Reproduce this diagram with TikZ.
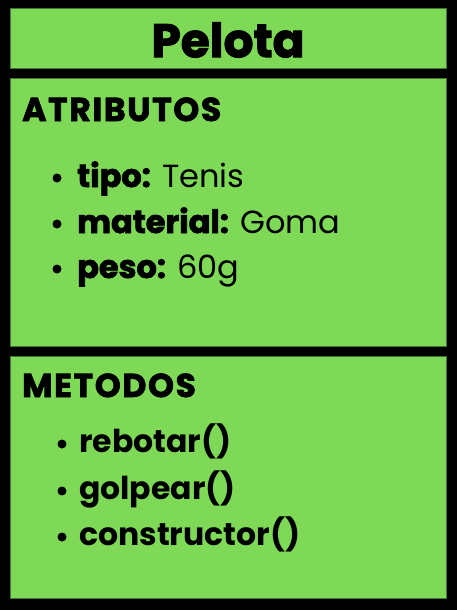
\documentclass[tikz,border=0pt]{standalone}
\usepackage{fontspec}
\setmainfont{Poppins}
\newfontfamily\heavyfont{Poppins}[FakeBold=2.2]
\usetikzlibrary{positioning}
\definecolor{lime}{RGB}{126,217,87}
\definecolor{ink}{RGB}{0,0,0}
\tikzset{
  panel/.style={fill=lime,draw=lime!55!black,line width=0.6pt},
  head/.style={anchor=base west,inner sep=0pt,text=ink,
    font=\fontsize{33}{33}\selectfont\heavyfont\bfseries\addfontfeature{LetterSpace=5}},
  item/.style={anchor=base west,inner sep=0pt,text=ink,font=\fontsize{32}{32}\selectfont},
  meth/.style={anchor=base west,inner sep=0pt,text=ink,font=\fontsize{31.5}{31.5}\selectfont\bfseries},
  dot/.style={circle,fill=ink,inner sep=0pt,minimum size=9pt},
}
\newcommand{\keyword}[1]{{\heavyfont\bfseries #1}}

\begin{document}
\begin{tikzpicture}[x=1pt,y=-1pt]
  \fill[black] (0,0) rectangle (457,610);
  \useasboundingbox (0,0) rectangle (457,610);
  % panels
  \path[panel] (10,8) rectangle (446,68);
  \path[panel] (10,78) rectangle (446,346);
  \path[panel] (10,356) rectangle (446,598);
  \node[font=\fontsize{47}{47}\selectfont\heavyfont\bfseries,text=ink,inner sep=0pt] (title) at (228,40) {Pelota};
  % atributos
  \node[head] (atr) at (22,121) {ATRIBUTOS};
  \foreach \k/\v/\y [count=\i] in {tipo/Tenis/187, material/Goma/233, peso/60g/278}
  {
    \node[dot] (ad\i) at (57,\y-9) {};
    \node[item] (a\i) at (77,\y) {\keyword{\k:} \v};
  }
  % metodos
  \node[head] (met) at (22,397) {METODOS};
  \foreach \m/\y [count=\i] in {rebotar()/452, golpear()/499, constructor()/545}
  {
    \node[dot] (md\i) at (62,\y-8) {};
    \node[meth] (m\i) at (79,\y) {\m};
  }
\end{tikzpicture}
\end{document}
